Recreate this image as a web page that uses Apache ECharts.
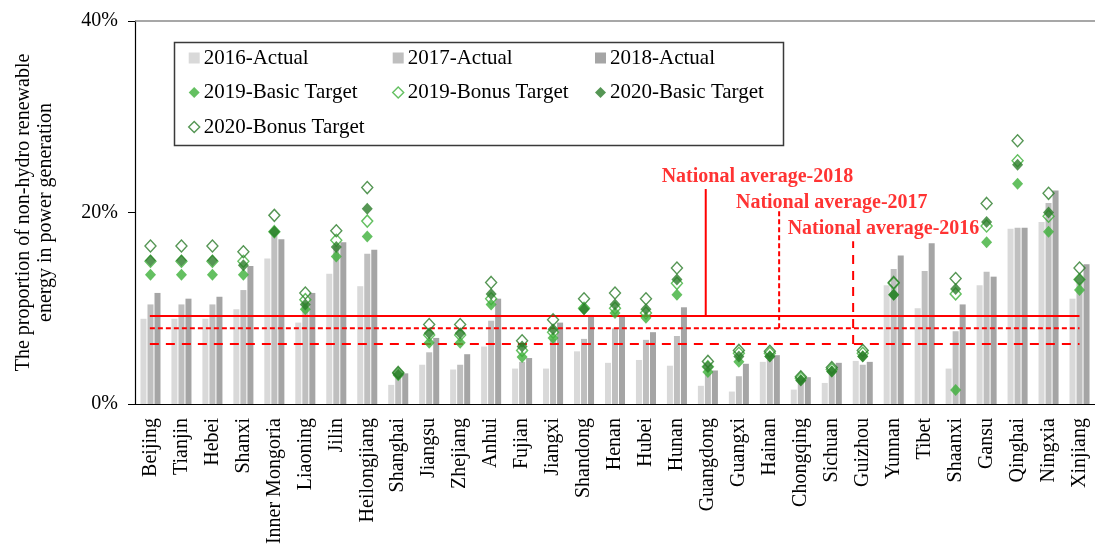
<!DOCTYPE html>
<html>
<head>
<meta charset="utf-8">
<script src="https://cdn.jsdelivr.net/npm/echarts@6/dist/echarts.min.js"></script>
<style>
  html, body { margin: 0; padding: 0; background: #fff; }
  #chart { width: 1095px; height: 549px; }
</style>
</head>
<body>
<div id="chart"></div>
<script>
// provinces (x axis)
const provinces = ['Beijing', 'Tianjin', 'Hebei', 'Shanxi', 'Inner Mongoria', 'Liaoning', 'Jilin', 'Heilongjiang',
  'Shanghai', 'Jiangsu', 'Zhejiang', 'Anhui', 'Fujian', 'Jiangxi', 'Shandong', 'Henan', 'Hubei', 'Hunan',
  'Guangdong', 'Guangxi', 'Hainan', 'Chongqing', 'Sichuan', 'Guizhou', 'Yunnan', 'Tibet', 'Shaanxi', 'Gansu',
  'Qinghai', 'Ningxia', 'Xinjiang']

// actual shares (%)
const actual2016 = [8.9, 8.9, 8.9, 9.9, 15.2, 8.5, 13.6, 12.3, 2.0, 4.1, 3.6, 6.0, 3.7, 3.7, 5.5, 4.3, 4.6, 4.0,
  1.9, 1.3, 4.4, 1.5, 2.2, 4.5, 12.4, 10.0, 3.7, 12.4, 18.3, 19.0, 11.0]
const actual2017 = [10.4, 10.4, 10.4, 11.9, 17.8, 10.6, 16.5, 15.7, 2.9, 5.4, 4.1, 8.7, 4.4, 6.8, 6.8, 7.9, 6.7, 7.1,
  3.2, 2.9, 4.6, 2.7, 3.4, 4.1, 14.1, 13.9, 7.6, 13.8, 18.4, 21.0, 12.7]
const actual2018 = [11.6, 11.0, 11.2, 14.4, 17.2, 11.6, 16.9, 16.1, 3.2, 6.9, 5.2, 11.0, 4.8, 8.5, 9.3, 9.2, 7.5, 10.1,
  3.5, 4.2, 5.1, 2.8, 4.3, 4.4, 15.5, 16.8, 10.4, 13.3, 18.4, 22.3, 14.6]

// targets (%)
const basic2019 = [13.5, 13.5, 13.5, 13.5, 18.0, 9.9, 15.4, 17.5, 3.0, 6.4, 6.4, 10.4, 4.9, 6.9, 10.0, 9.5, 9.0, 11.4,
  3.35, 4.4, 5.0, 2.5, 3.4, 5.0, 11.4, null, 1.45, 16.9, 23.0, 18.0, 11.9]
const bonus2019 = [14.9, 14.9, 14.9, 14.9, 18.0, 10.9, 17.1, 19.1, 3.2, 7.2, 7.2, 11.0, 5.6, 7.5, 10.0, 10.0, 9.5, 12.6,
  3.9, 5.3, 5.3, 2.7, 3.6, 5.3, 12.6, null, 11.5, 18.6, 25.4, 19.6, 13.0]
const basic2020 = [15.0, 15.0, 15.0, 14.5, 18.0, 10.4, 16.4, 20.4, 3.1, 7.4, 7.4, 11.5, 6.0, 7.8, 9.9, 10.4, 9.9, 13.0,
  3.9, 4.95, 4.95, 2.45, 3.4, 4.95, 11.4, null, 12.0, 19.0, 25.0, 20.0, 13.0]
const bonus2020 = [16.5, 16.5, 16.5, 15.9, 19.7, 11.6, 18.1, 22.6, 3.3, 8.3, 8.3, 12.7, 6.6, 8.8, 11.0, 11.6, 11.0, 14.2,
  4.45, 5.6, 5.5, 2.85, 3.8, 5.6, 12.7, null, 13.1, 20.95, 27.5, 22.0, 14.2]

// national averages (%)
const avgNames = ['National average-2018', 'National average-2017', 'National average-2016']
const avgValues = [9.2, 7.9, 6.27]
// where the callout stems stand (position along the axis, in category units) and how high they go
const avgStemX = [18.43, 20.8, 23.19]
const avgStemTop = [22.45, 20.16, 17.0]
const avgLabelPos = [[20.1, 23.7], [22.5, 21.0], [24.17, 18.3]]
const avgSpan = [0.48, 30.5]

const FONT = 'Liberation Serif'
const LIGHT = '#3db03a'
const DARK = '#2b7c29'
const RED = '#ff0000'
const avgDash = ['solid', [5, 3], [9, 7]]

const chart = echarts.init(document.getElementById('chart'))

const barSeries = (name, data, color) => ({
  name, type: 'bar', data, barWidth: 6, barGap: '17%',
  itemStyle: { color }, z: 2, silent: true
})

const markerSeries = (name, data, fill, stroke) => ({
  name, type: 'scatter', data, symbol: 'diamond', symbolSize: [11, 12],
  itemStyle: { color: fill, borderColor: stroke, borderWidth: fill === 'none' ? 1.4 : 0 },
  z: 4, silent: true
})

const avgSeries = []
avgNames.forEach((n, i) => {
  const ls = { color: RED, width: 2, type: avgDash[i] }
  avgSeries.push({
    type: 'line', xAxisIndex: 1, symbol: 'none', silent: true, z: 3, lineStyle: ls,
    data: [[avgSpan[0], avgValues[i]], [avgSpan[1], avgValues[i]]]
  })
  avgSeries.push({
    type: 'line', xAxisIndex: 1, symbol: 'none', silent: true, z: 3, lineStyle: ls,
    data: [[avgStemX[i], avgValues[i]], [avgStemX[i], avgStemTop[i]]]
  })
  avgSeries.push({
    type: 'scatter', xAxisIndex: 1, symbolSize: 0, silent: true, z: 5,
    data: [{ name: n, value: avgLabelPos[i] }],
    label: {
      show: true, formatter: '{b}', position: 'inside',
      color: RED, fontFamily: FONT, fontWeight: 'bold', fontSize: 20
    }
  })
})

const legendBase = {
  orient: 'vertical', padding: 0, itemGap: 10.5, itemWidth: 11, itemHeight: 11,
  selectedMode: false,
  textStyle: { fontFamily: FONT, fontSize: 21, color: '#000', lineHeight: 24, padding: [0, 0, 0, -1] }
}
const rectIcon = (name, color) => ({ name, icon: 'rect', itemStyle: { color } })
const diaIcon = (name, fill, stroke) => ({
  name, icon: 'diamond',
  itemStyle: { color: fill === 'none' ? '#fff' : fill, borderColor: stroke, borderWidth: fill === 'none' ? 1.4 : 0 }
})

const option = {
  animation: false,
  backgroundColor: '#fff',
  grid: { left: 135, top: 21, bottom: 145, right: -10 },
  legend: [
    Object.assign({}, legendBase, {
      left: 188, top: 46,
      data: [rectIcon('2016-Actual', '#d9d9d9'), diaIcon('2019-Basic Target', LIGHT, LIGHT), diaIcon('2020-Bonus Target', 'none', DARK)]
    }),
    Object.assign({}, legendBase, {
      left: 392, top: 46,
      data: [rectIcon('2017-Actual', '#bfbfbf'), diaIcon('2019-Bonus Target', 'none', LIGHT)]
    }),
    Object.assign({}, legendBase, {
      left: 595, top: 46,
      data: [rectIcon('2018-Actual', '#a5a5a5'), diaIcon('2020-Basic Target', DARK, DARK)]
    })
  ],
  graphic: [{
    type: 'rect', left: 172, top: 40, z: 10, silent: true,
    shape: { width: 609, height: 103 },
    style: { fill: 'none', stroke: '#3a3a3a', lineWidth: 1.5 }
  }],
  xAxis: [{
    type: 'category', data: provinces,
    axisLine: { lineStyle: { color: '#000', width: 1.2 } },
    axisTick: { length: 5, lineStyle: { color: '#000' } },
    axisLabel: { interval: 0, rotate: 90, margin: 14, fontFamily: FONT, fontSize: 20, color: '#000' }
  }, {
    type: 'value', min: 0, max: 31, show: false
  }],
  yAxis: {
    type: 'value', min: 0, max: 40, interval: 20,
    name: 'The proportion of non-hydro renewable\nenergy in power generation',
    nameLocation: 'middle', nameGap: 78,
    nameTextStyle: { fontFamily: FONT, fontSize: 20, color: '#000', lineHeight: 22 },
    axisLine: { show: true, lineStyle: { color: '#000', width: 1.2 } },
    axisTick: { show: true, length: 7, lineStyle: { color: '#000' } },
    axisLabel: { formatter: '{value}%', margin: 17, fontFamily: FONT, fontSize: 20, color: '#000' },
    splitLine: { show: false }
  },
  series: [
    Object.assign(barSeries('2016-Actual', actual2016, '#d9d9d9'), {
      markLine: {
        silent: true, symbol: 'none', label: { show: false },
        lineStyle: { color: '#8a8a8a', width: 1.5, type: 'solid' },
        data: [{ yAxis: 40 }]
      }
    }),
    barSeries('2017-Actual', actual2017, '#bfbfbf'),
    barSeries('2018-Actual', actual2018, '#a5a5a5'),
    markerSeries('2019-Basic Target', basic2019, LIGHT, LIGHT),
    markerSeries('2019-Bonus Target', bonus2019, 'none', LIGHT),
    markerSeries('2020-Basic Target', basic2020, DARK, DARK),
    markerSeries('2020-Bonus Target', bonus2020, 'none', DARK)
  ].concat(avgSeries)
}

chart.setOption(option)
</script>
</body>
</html>
